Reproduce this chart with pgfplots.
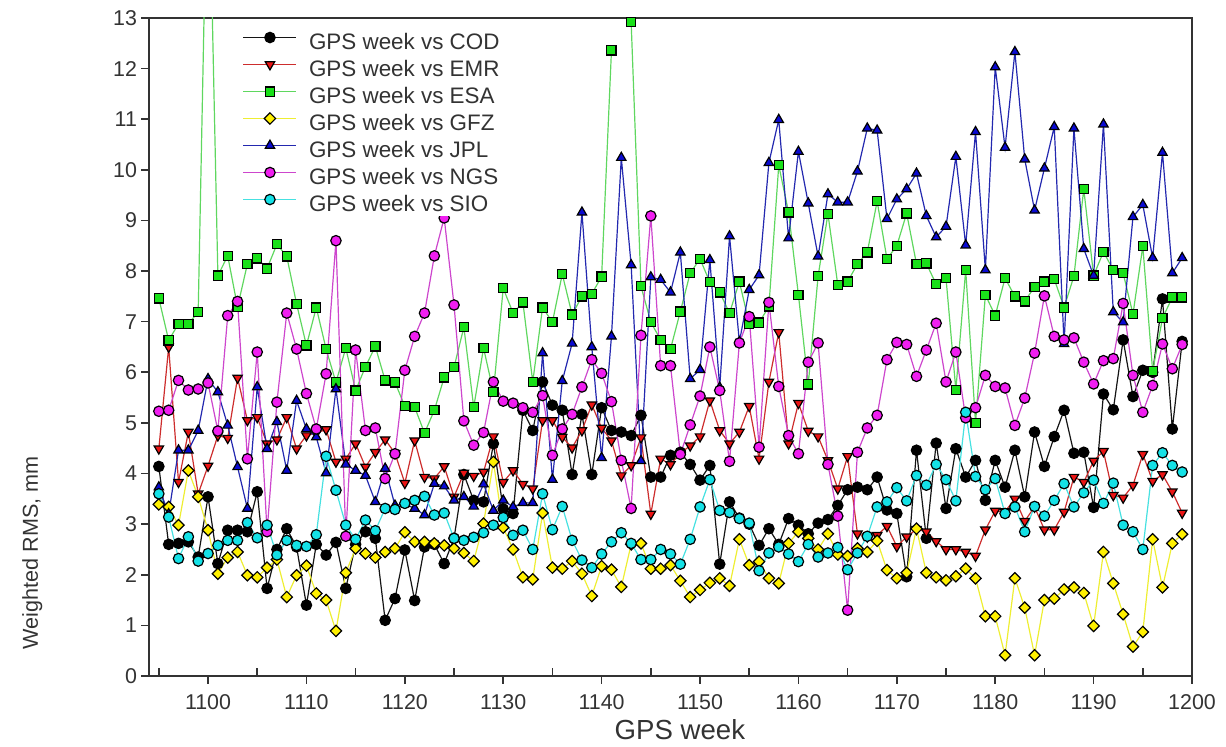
\documentclass[border=0pt]{standalone}
\usepackage{fontspec}
\setmainfont{Liberation Sans}
\usepackage{pgfplots}
\usepackage{pgfplotstable}
\pgfplotsset{compat=1.18}
\definecolor{codL}{RGB}{20,20,20}
\definecolor{emrL}{RGB}{205,45,45}
\definecolor{emrF}{RGB}{235,20,20}
\definecolor{esaL}{RGB}{95,215,95}
\definecolor{esaF}{RGB}{25,225,25}
\definecolor{gfzL}{RGB}{238,238,50}
\definecolor{gfzF}{RGB}{255,240,0}
\definecolor{jplL}{RGB}{35,40,175}
\definecolor{jplF}{RGB}{10,10,210}
\definecolor{ngsL}{RGB}{205,70,205}
\definecolor{ngsF}{RGB}{240,30,240}
\definecolor{sioL}{RGB}{70,225,225}
\definecolor{sioF}{RGB}{20,225,230}
\pgfplotstableread{
w cod emr esa gfz jpl ngs sio
1095 4.14 4.49 7.46 3.39 3.73 5.23 3.60
1096 2.60 6.50 6.63 3.34 3.20 5.25 3.14
1097 2.62 3.83 6.96 2.98 4.46 5.84 2.32
1098 2.65 4.82 6.96 4.06 4.46 5.65 2.75
1099 2.35 3.60 7.19 3.54 4.85 5.67 2.27
1100 3.54 4.15 17.0 2.88 5.87 5.79 2.42
1101 2.22 4.75 7.91 2.02 5.61 4.84 2.58
1102 2.88 4.70 8.30 2.34 4.95 7.12 2.68
1103 2.88 5.89 7.29 2.45 4.13 7.40 2.68
1104 2.85 5.05 8.14 1.99 3.31 4.29 3.03
1105 3.64 5.11 8.25 1.95 5.71 6.40 2.73
1106 1.73 4.59 8.05 2.14 4.49 2.85 2.98
1107 2.50 4.67 8.53 2.30 5.02 5.41 2.39
1108 2.91 5.11 8.29 1.56 4.06 7.17 2.68
1109 2.55 4.49 7.35 1.99 5.44 6.46 2.58
1110 1.40 4.75 6.53 2.18 4.88 5.58 2.56
1111 2.60 4.80 7.28 1.63 4.72 4.88 2.79
1112 2.39 4.87 6.46 1.50 4.01 5.97 4.34
1113 2.64 4.23 5.80 0.89 5.67 8.60 3.67
1114 1.73 4.29 6.48 2.04 4.18 2.76 2.98
1115 2.60 4.59 5.64 2.52 4.06 6.44 2.70
1116 2.85 4.13 6.11 2.42 3.96 4.85 3.08
1117 2.72 4.42 6.51 2.34 3.44 4.90 2.87
1118 1.10 4.67 5.84 2.45 4.10 3.90 3.31
1119 1.53 4.40 5.80 2.52 3.37 4.39 3.29
1120 2.49 3.81 5.33 2.84 3.40 6.04 3.41
1121 1.49 4.65 5.31 2.65 3.31 6.71 3.47
1122 2.55 3.93 4.80 2.65 3.18 7.17 3.55
1123 2.60 3.90 5.25 2.62 3.80 8.30 3.18
1124 2.22 4.14 5.90 2.58 3.75 9.05 3.22
1125 2.72 3.54 6.10 2.52 3.47 7.33 2.72
1126 3.98 4.01 6.89 2.43 3.54 5.04 2.68
1127 3.47 3.95 5.31 2.27 3.35 4.56 2.74
1128 3.44 4.03 6.48 3.01 3.79 4.81 2.83
1129 4.59 4.73 5.61 4.23 3.27 5.81 2.98
1130 3.30 3.83 7.66 2.93 3.47 5.43 3.13
1131 3.21 4.06 7.17 2.50 3.34 5.39 2.78
1132 5.25 3.79 7.38 1.95 3.42 5.30 2.88
1133 4.85 3.70 5.81 1.91 3.42 5.21 2.50
1134 5.81 5.05 7.28 3.22 6.38 5.54 3.60
1135 5.35 5.05 6.99 2.14 3.88 4.36 2.89
1136 5.25 4.72 7.94 2.12 5.83 4.88 3.35
1137 3.98 4.51 7.14 2.27 6.57 5.17 2.68
1138 5.17 4.85 7.50 2.02 9.16 5.71 2.29
1139 3.98 5.36 7.55 1.58 6.50 6.25 2.14
1140 5.30 4.90 7.89 2.17 4.31 5.98 2.41
1141 4.85 4.65 12.36 2.10 6.71 5.42 2.65
1142 4.82 3.96 nan 1.76 10.24 4.26 2.83
1143 4.75 4.16 12.92 2.60 8.12 3.31 2.62
1144 5.15 4.71 7.70 2.62 4.25 6.73 2.30
1145 3.93 3.20 6.99 2.12 7.88 9.09 2.30
1146 3.93 4.29 6.64 2.12 7.83 6.13 2.50
1147 4.36 4.18 6.46 2.19 7.58 6.13 2.41
1148 4.42 4.40 7.20 1.88 8.37 4.38 2.21
1149 4.18 4.55 7.96 1.56 5.87 4.96 2.70
1150 3.87 4.73 8.24 1.70 6.05 5.53 3.34
1151 4.16 5.44 7.78 1.84 8.22 6.50 3.88
1152 2.21 4.85 7.58 1.93 5.70 5.64 3.27
1153 3.44 4.59 7.17 1.78 8.69 4.24 3.23
1154 3.12 4.82 7.79 2.70 6.60 6.58 3.11
1155 3.00 5.33 6.96 2.19 7.63 7.10 3.02
1156 2.58 4.29 6.98 2.26 7.92 4.52 2.08
1157 2.91 5.81 7.30 1.93 10.14 7.38 2.43
1158 2.60 6.79 10.09 1.83 10.99 5.72 2.55
1159 3.11 4.59 9.16 2.62 8.65 4.75 2.41
1160 2.98 5.39 7.53 2.85 10.36 4.39 2.26
1161 2.81 4.84 5.76 2.72 9.34 6.20 2.60
1162 3.02 4.73 7.90 2.50 8.29 6.58 2.35
1163 3.09 4.26 9.13 2.81 9.52 4.18 2.43
1164 3.37 3.70 7.73 2.40 9.36 3.16 2.54
1165 3.68 4.34 7.79 2.37 9.36 1.30 2.10
1166 3.73 2.81 8.14 2.52 9.97 4.42 2.43
1167 3.68 2.75 8.37 2.45 10.82 4.90 2.76
1168 3.93 2.78 9.38 2.67 10.78 5.15 3.34
1169 3.28 2.96 8.24 2.09 9.03 6.25 3.44
1170 3.21 2.56 8.50 1.93 9.42 6.59 3.72
1171 1.96 2.75 9.14 2.04 9.62 6.55 3.46
1172 4.46 2.90 8.14 2.91 9.93 5.92 3.96
1173 2.72 2.85 8.15 2.04 9.09 6.44 3.77
1174 4.60 2.66 7.74 1.95 8.67 6.97 4.18
1175 3.31 2.50 7.86 1.89 8.88 5.81 3.88
1176 4.49 2.50 5.65 1.97 10.26 6.40 3.46
1177 3.93 2.45 8.02 2.12 8.51 5.10 5.21
1178 4.26 2.37 5.00 1.93 10.75 5.30 3.94
1179 3.47 2.89 7.53 1.18 8.02 5.94 3.68
1180 4.26 3.26 7.12 1.18 12.03 5.72 3.90
1181 3.73 3.25 7.86 0.41 10.44 5.69 3.21
1182 4.46 3.50 7.50 1.93 12.33 4.95 3.34
1183 3.54 3.06 7.40 1.35 10.21 5.49 2.85
1184 4.82 3.34 7.69 0.41 9.20 6.38 3.35
1185 4.14 2.89 7.79 1.50 10.03 7.51 3.16
1186 4.73 2.89 7.84 1.53 10.85 6.71 3.47
1187 5.25 3.24 7.28 1.71 6.56 6.64 3.80
1188 4.40 3.93 7.90 1.75 10.82 6.68 3.34
1189 4.42 3.83 9.62 1.64 8.44 6.20 3.62
1190 3.33 4.25 7.91 0.99 7.91 5.77 3.87
1191 5.57 4.44 8.38 2.45 10.90 6.23 3.41
1192 5.26 3.57 8.02 1.83 7.19 6.27 3.81
1193 6.64 3.52 7.96 1.22 6.99 7.36 2.98
1194 5.52 3.77 7.15 0.58 9.07 5.94 2.85
1195 6.04 4.38 8.49 0.87 9.31 5.21 2.50
1196 6.00 3.85 6.02 2.70 8.26 5.74 4.16
1197 7.45 3.98 7.07 1.75 10.34 6.56 4.41
1198 4.88 3.64 7.48 2.62 7.96 6.07 4.16
1199 6.61 3.22 7.48 2.80 8.26 6.55 4.03
}\data
\begin{document}
\begin{tikzpicture}
\begin{axis}[
  at={(74.5pt,35.5pt)}, anchor=south west,
  scale only axis, width=521.5pt, height=329pt,
  xmin=1094, xmax=1200, ymin=0, ymax=13,
  unbounded coords=jump,
  axis line style={black!80, line width=0.8pt},
  xtick={1100,1110,...,1200},
  ytick={0,1,...,13},
  xtick pos=bottom, ytick pos=left,
  tick align=outside,
  major tick length=4pt,
  tick style={black!80, line width=0.8pt},
  extra x ticks={1095,1105,...,1195},
  extra x tick labels={},
  extra x tick style={tick align=inside},
  /pgf/number format/assume math mode=true,
  /pgf/number format/1000 sep={},
  ticklabel style={font=\fontsize{10.7}{12}\selectfont, text=black!80},
  xticklabel style={yshift=-2pt},
  yticklabel style={xshift=1.5pt},
  xlabel={GPS week},
  xlabel style={font=\fontsize{13.8}{16}\selectfont, text=black!80, at={(axis description cs:0.509,-0.082)}, anchor=center},
  ylabel={Weighted RMS, mm},
  ylabel style={font=\fontsize{10.8}{12}\selectfont, text=black!80, at={(axis description cs:-0.112,0.187)}, anchor=center},
  legend style={at={(axis description cs:0.090,0.979)}, anchor=north west, draw=none, fill=white,
    inner sep=0pt, outer sep=0pt, row sep=2.5pt, column sep=0pt,
    font=\fontsize{11.2}{13}\selectfont, text=black!80,
    nodes={inner sep=0pt, text height=9pt, text depth=2pt}},
  legend cell align=left,
  legend image code/.code={\draw[mark repeat=2,mark phase=2] plot coordinates {(0pt,0.5ex) (13.25pt,0.5ex) (26.5pt,0.5ex)}; \path (32.5pt,0pt);},
  every axis plot/.append style={line width=0.6pt},
]
\addplot[color=codL, mark=*, mark size=2.6pt, mark options={draw=black, fill=black, line width=0.6pt}] table[x=w,y=cod] {\data};
\addlegendentry{GPS week vs COD}
\addplot[color=emrL, mark=triangle*, mark size=2.7pt, mark options={draw=black, fill=emrF, line width=0.6pt, rotate=180}] table[x=w,y=emr] {\data};
\addlegendentry{GPS week vs EMR}
\addplot[color=esaL, mark=square*, mark size=2.3pt, mark options={draw=black, fill=esaF, line width=0.6pt}] table[x=w,y=esa] {\data};
\addlegendentry{GPS week vs ESA}
\addplot[color=gfzL, mark=square*, mark size=2.0pt, mark options={draw=black, fill=gfzF, line width=0.6pt, rotate=45}] table[x=w,y=gfz] {\data};
\addlegendentry{GPS week vs GFZ}
\addplot[color=jplL, mark=triangle*, mark size=2.7pt, mark options={draw=black, fill=jplF, line width=0.6pt}] table[x=w,y=jpl] {\data};
\addlegendentry{GPS week vs JPL}
\addplot[color=ngsL, mark=*, mark size=2.6pt, mark options={draw=black, fill=ngsF, line width=0.6pt}] table[x=w,y=ngs] {\data};
\addlegendentry{GPS week vs NGS}
\addplot[color=sioL, mark=*, mark size=2.6pt, mark options={draw=black, fill=sioF, line width=0.6pt}] table[x=w,y=sio] {\data};
\addlegendentry{GPS week vs SIO}
\end{axis}
\pgfresetboundingbox
\path (0pt,0pt) rectangle (613pt,373.5pt);
\end{tikzpicture}
\end{document}
